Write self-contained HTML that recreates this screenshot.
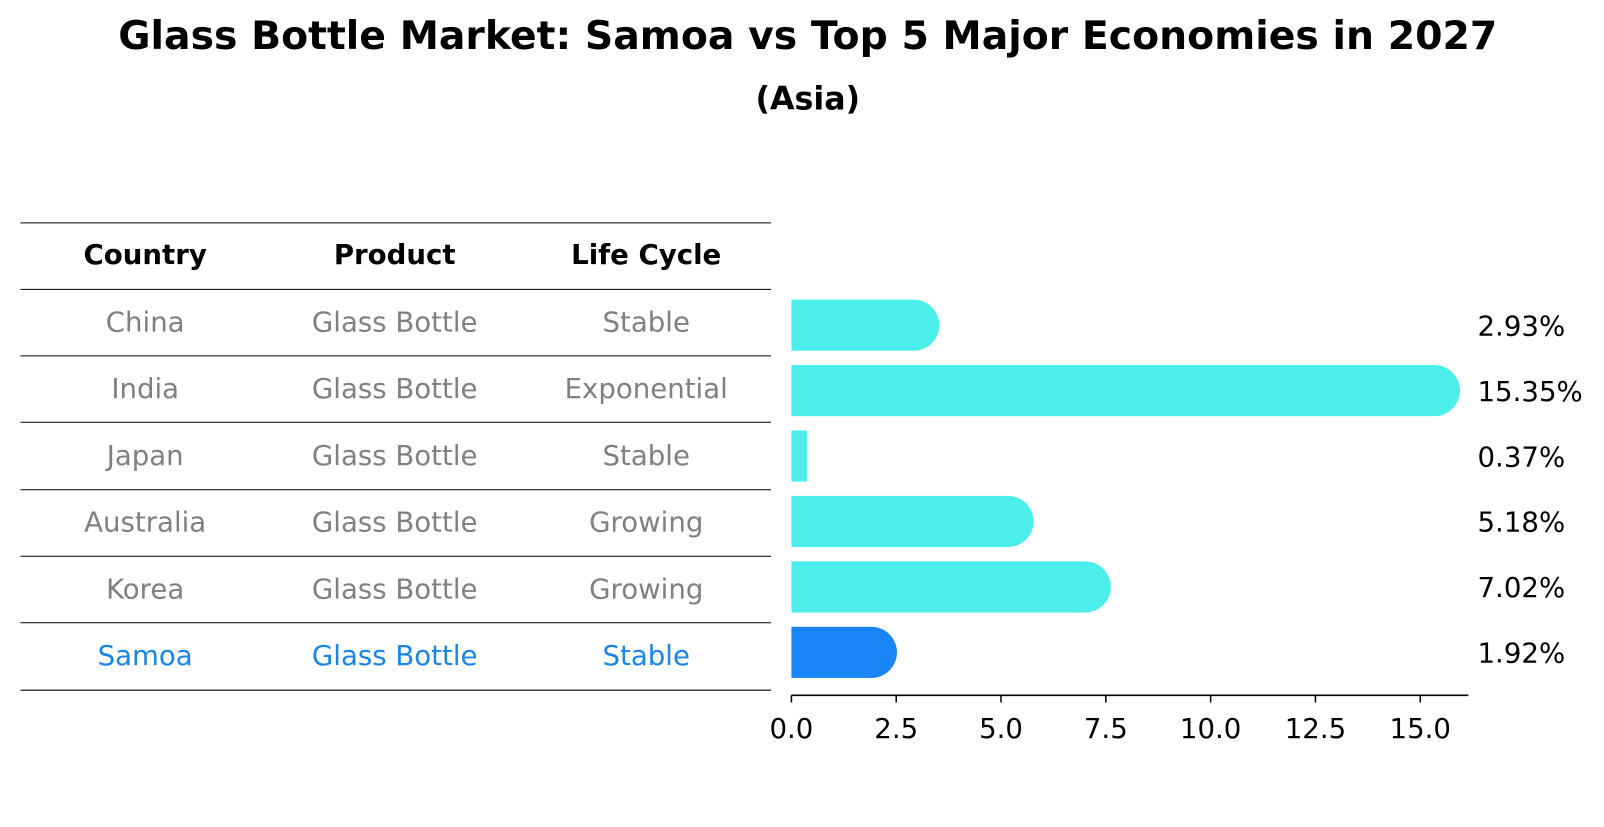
<!DOCTYPE html>
<html><head><meta charset="utf-8"><style>
body{margin:0;background:#fff;font-family:"DejaVu Sans","Liberation Sans",sans-serif;}
</style></head><body>
<svg id="chart" width="1604" height="823" viewBox="0 0 1604 823" xmlns="http://www.w3.org/2000/svg" font-family="DejaVu Sans, Liberation Sans, sans-serif">
<g id="root" transform="scale(1.0225)">
<text x="790" y="48" text-anchor="middle" font-size="38.5" font-weight="bold">Glass Bottle Market: Samoa vs Top 5 Major Economies in 2027</text>
<text x="790" y="107" text-anchor="middle" font-size="31" font-weight="bold">(Asia)</text>
<g id="table"></g>
<g id="bars"></g>
</g>
</svg>
<script>
const countries=["China","India","Japan","Australia","Korea","Samoa"];
const products=["Glass Bottle","Glass Bottle","Glass Bottle","Glass Bottle","Glass Bottle","Glass Bottle"];
const lifeCycles=["Stable","Exponential","Stable","Growing","Growing","Stable"];
const values=[2.93,15.35,0.37,5.18,7.02,1.92];
const ticks=[0,2.5,5,7.5,10,12.5,15];
const tickLabels=["0.0","2.5","5.0","7.5","10.0","12.5","15.0"];
const NS="http://www.w3.org/2000/svg";
const tbl=document.getElementById('table');
const bars=document.getElementById('bars');
function mk(tag,attrs,parent){const e=document.createElementNS(NS,tag);for(const k in attrs)e.setAttribute(k,attrs[k]);parent.appendChild(e);return e;}
const x=v=>774+v*41;
const rowY=i=>318+i*64;
const colX=[142,386,632];
const lineYs=[218,283,348,413,479,544,609,675];
lineYs.forEach(y=>{const l=mk('line',{x1:20,x2:754,y1:y,y2:y,stroke:'#000','stroke-width':1},tbl);

});
["Country","Product","Life Cycle"].forEach((h,j)=>{const t=mk('text',{x:colX[j],y:258,'text-anchor':'middle','font-size':27,'font-weight':'bold'},tbl);t.textContent=h;

});
const tableRowY=i=>324+i*65.3;
countries.forEach((c,i)=>{
 const col=i===countries.length-1?'#1a85e6':'#808080';
 [c,products[i],lifeCycles[i]].forEach((s,j)=>{const t=mk('text',{x:colX[j],y:tableRowY(i),'text-anchor':'middle','font-size':27,fill:col},tbl);t.textContent=s;
 
 });
 const isS=i===countries.length-1;
 const fill=isS?'#1a85f5':'#4beeea';
 const cy=rowY(i), h=50, r=25;
 const g=mk('g',{},bars);
 
 
 mk('rect',{x:x(0),y:cy-h/2,width:Math.max(0,x(values[i])-x(0)),height:h,fill:fill},g);
 if(values[i]>0.6) mk('path',{d:`M${x(values[i])-0.5},${cy-r} A${r},${r} 0 0 1 ${x(values[i])-0.5},${cy+r} Z`,fill:fill},g);
 const lt=mk('text',{x:1445,y:cy+10,'font-size':27,fill:'#000'},bars);lt.textContent=values[i].toFixed(2)+'%';
 
 
});
const ax=mk('line',{x1:774,x2:1436,y1:680,y2:680,stroke:'#000','stroke-width':1.5},bars);


ticks.forEach((t,k)=>{mk('line',{x1:x(t),x2:x(t),y1:680,y2:687,stroke:'#000','stroke-width':1.5},bars);
 const tl=mk('text',{x:x(t),y:722,'text-anchor':'middle','font-size':27},bars);tl.textContent=tickLabels[k];
 
 });
</script>
</body></html>
